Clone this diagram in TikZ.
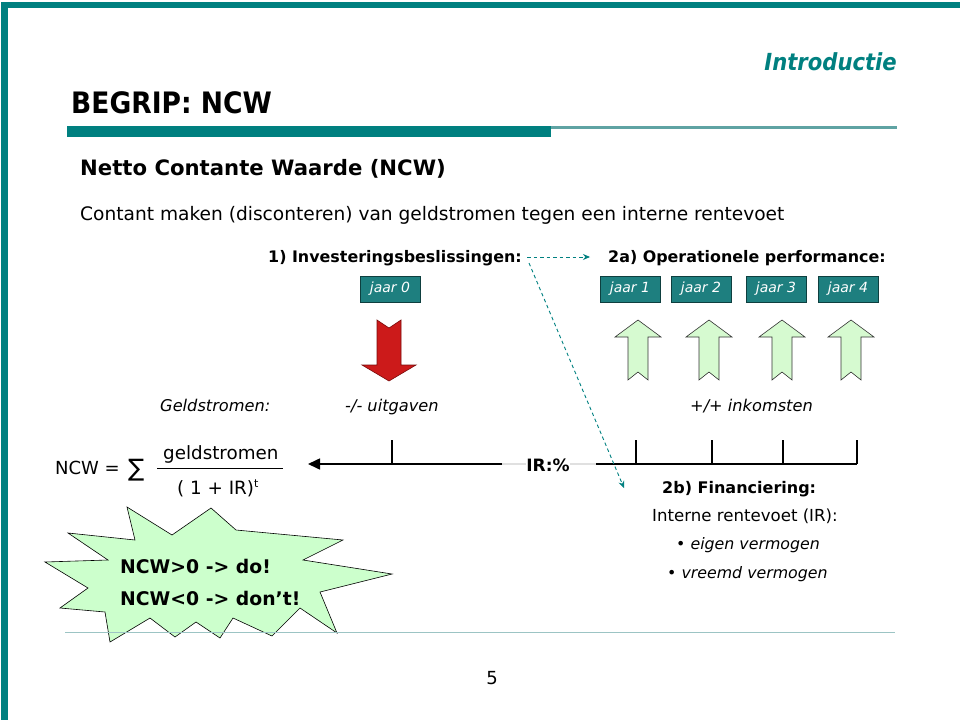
\documentclass[tikz,border=0pt]{standalone}
\usepackage{fontspec}
\setmainfont{DejaVu Sans}
\newfontfamily\condf{DejaVu Sans Condensed}
\usetikzlibrary{arrows.meta}
\definecolor{tealc}{HTML}{008080}
\definecolor{tealbox}{HTML}{1E7F7F}
\definecolor{tealdark}{HTML}{0E3F3F}
\definecolor{lightrule}{HTML}{9CC4C4}
\definecolor{thinrule}{HTML}{5FA3A3}
\definecolor{burstgreen}{HTML}{CCFFCC}
\definecolor{arrowgreen}{HTML}{D6FAD0}
\definecolor{arrowred}{HTML}{CC1A1A}
\definecolor{arrowreddark}{HTML}{7A0A0A}
\tikzset{
  txt/.style={inner sep=0pt, anchor=base west},
  jaarbox/.style={draw=tealdark, fill=tealbox, text=white, minimum width=60pt, minimum height=26pt, inner sep=0pt, font=\fontsize{14}{16}\selectfont\itshape},
  conn/.style={draw=tealc, dashed, dash pattern=on 3.5pt off 3pt, line width=0.9pt, -{Stealth[length=7pt,width=6pt]}},
  tline/.style={line width=1.6pt, black},
  upar/.pic={\draw[fill=arrowgreen, draw=black!80, line width=0.6pt] (0,0) -- (23,17) -- (10,17) -- (10,60) -- (0,52) -- (-10,60) -- (-10,17) -- (-23,17) -- cycle;},
  downar/.pic={\draw[fill=arrowred, draw=arrowreddark, line width=0.6pt] (-12,0) -- (0,8) -- (12,0) -- (12,45) -- (27,45) -- (0,61) -- (-27,45) -- (-12,45) -- cycle;}
}
\begin{document}
\begin{tikzpicture}[x=1pt,y=-1pt]
\useasboundingbox (0,0) rectangle (960,720);
% frame
\fill[tealc] (1,2) rectangle (960,8);
\fill[tealc] (1,2) rectangle (8,720);
% header
\node[txt, anchor=base east, text=tealc, font=\fontsize{23.5}{26}\selectfont\condf\bfseries\itshape] (intro) at (897,70) {Introductie};
\node[txt, font=\fontsize{29.5}{32}\selectfont\condf\bfseries] (title) at (71,113) {BEGRIP: NCW};
\fill[tealc] (67,126) rectangle (551,137);
\fill[thinrule] (551,126) rectangle (897,129);
% texts
\node[txt, font=\fontsize{21.2}{24}\selectfont\bfseries] (sub) at (80,175) {Netto Contante Waarde (NCW)};
\node[txt, font=\fontsize{18.6}{22}\selectfont] (desc) at (80,220) {Contant maken (disconteren) van geldstromen tegen een interne rentevoet};
\node[txt, font=\fontsize{15.9}{18}\selectfont\bfseries] (inv) at (268,262) {1) Investeringsbeslissingen:};
\node[txt, font=\fontsize{15.9}{18}\selectfont\bfseries] (ops) at (608,262) {2a) Operationele performance:};
% jaar boxes
\node[jaarbox] (j0) at (390,289) {jaar 0};
\node[jaarbox] (j1) at (630,289) {jaar 1};
\node[jaarbox] (j2) at (701,289) {jaar 2};
\node[jaarbox] (j3) at (776,289) {jaar 3};
\node[jaarbox] (j4) at (848,289) {jaar 4};
% arrows
\pic at (389,320) {downar};
\pic at (638,320) {upar};
\pic at (709,320) {upar};
\pic at (782,320) {upar};
\pic at (851,320) {upar};
% row labels
\node[txt, font=\fontsize{16.2}{19}\selectfont\itshape] (geld) at (160,411) {Geldstromen:};
\node[txt, font=\fontsize{16.2}{19}\selectfont\itshape] (uit) at (345,411) {-/- uitgaven};
\node[txt, font=\fontsize{16.2}{19}\selectfont\itshape] (ink) at (690,411) {+/+ inkomsten};
% formula
\node[txt, font=\fontsize{18}{21}\selectfont] (ncw) at (55,474) {NCW =};
\node[txt, font=\fontsize{24}{26}\selectfont] (sigma) at (128,476) {∑};
\node[txt, font=\fontsize{18.3}{21}\selectfont] (num) at (163,459) {geldstromen};
\node[txt, font=\fontsize{18.3}{21}\selectfont] (den) at (177,494) {( 1 + IR)\raisebox{7pt}{\fontsize{11}{12}\selectfont t}};
\draw[line width=0.8pt] (157,468) -- (283,468);
% timeline
\coordinate (tlL) at (308,464);
\coordinate (tlR) at (857,464);
\coordinate (grayL) at (502,464);
\coordinate (grayR) at (596,464);
\draw[line width=1.6pt, black!12] (grayL) -- (grayR);
\node[inner sep=0pt, fill=white, font=\fontsize{17}{20}\selectfont\bfseries] (ir) at (548,465) {IR:\%};
\draw[tline, -{Triangle[length=12pt,width=11pt]}] (grayL) -- (tlL);
\draw[tline] (grayR) -- (tlR);
\foreach \xx in {392,636,712,783,857} {\draw[tline] (\xx,464) -- (\xx,440);}
% financiering
\node[txt, font=\fontsize{16}{19}\selectfont\bfseries] (fin) at (662,493) {2b) Financiering:};
\node[txt, font=\fontsize{16.6}{19}\selectfont] (irt) at (652,521) {Interne rentevoet (IR):};
\node[txt, font=\fontsize{15.8}{19}\selectfont] (ev) at (676,549) {\textbullet\ \textit{eigen vermogen}};
\node[txt, font=\fontsize{15.8}{19}\selectfont] (vv) at (667,578) {\textbullet\ \textit{vreemd vermogen}};
% connectors
\coordinate (c1) at (527,257);
\coordinate (c2) at (590,257);
\coordinate (c3) at (529,263);
\coordinate (c4) at (624,488);
\draw[conn] (c1) -- (c2);
\draw[conn] (c3) -- (c4);
% starburst
\draw[fill=burstgreen, draw=black, line width=0.6pt]
 (127,507) -- (172,535) -- (211,508) -- (236,530) -- (343,540) -- (303,560) -- (392,574) -- (320,592) -- (337,633) -- (300,608) -- (272,636) -- (233,618) -- (220,638) -- (196,622) -- (175,637) -- (150,618) -- (110,642) -- (105,612) -- (60,608) -- (88,588) -- (45,562) -- (108,560) -- (68,533) -- (135,540) -- cycle;
\node[txt, font=\fontsize{18.8}{21}\selectfont\bfseries] (do) at (120,573) {NCW>0 -> do!};
\node[txt, font=\fontsize{18.8}{21}\selectfont\bfseries] (dont) at (120,605) {NCW<0 -> don’t!};
% bottom
\draw[lightrule, line width=1pt] (65,632) -- (895,632);
\node[txt, anchor=base, font=\fontsize{18}{21}\selectfont] (pg) at (492,684) {5};
\end{tikzpicture}
\end{document}
